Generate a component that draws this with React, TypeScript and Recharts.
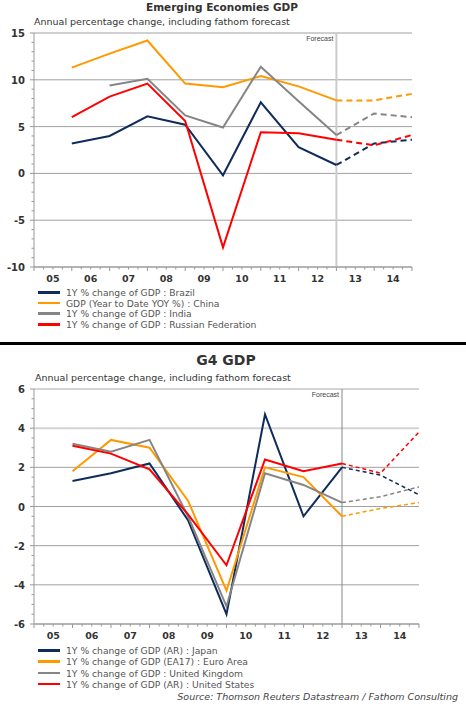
import React from 'react';
import { LineChart, Line, XAxis, YAxis, ReferenceLine } from 'recharts';

// Periods (calendar years); each value sits at the end of its year
const years = [2005, 2006, 2007, 2008, 2009, 2010, 2011, 2012, 2013, 2014];
const lastActual = 2012;

// Emerging economies, annual % change
const brazil = [3.2, 4.0, 6.1, 5.2, -0.2, 7.6, 2.8, 0.9, 3.2, 3.6];
const china = [11.3, 12.8, 14.2, 9.6, 9.2, 10.4, 9.3, 7.8, 7.8, 8.5];
const india = [null, 9.4, 10.1, 6.2, 4.9, 11.4, 7.7, 4.1, 6.4, 6.0];
const russia = [6.0, 8.2, 9.6, 5.6, -7.9, 4.4, 4.3, 3.6, 3.0, 4.1];

// G4, annual % change
const japan = [1.3, 1.7, 2.2, -0.7, -5.5, 4.7, -0.5, 2.0, 1.6, 0.6];
const euroArea = [1.8, 3.4, 3.0, 0.3, -4.3, 2.0, 1.5, -0.5, -0.1, 0.2];
const uk = [3.2, 2.8, 3.4, -0.5, -5.1, 1.7, 1.1, 0.2, 0.5, 1.0];
const us = [3.1, 2.7, 1.9, -0.4, -3.0, 2.4, 1.8, 2.2, 1.7, 3.8];

const emTicks = [-10, -5, 0, 5, 10, 15];
const g4Ticks = [-6, -4, -2, 0, 2, 4, 6];

const emLabels = [
    '1Y % change of GDP : Brazil',
    'GDP (Year to Date YOY %) : China',
    '1Y % change of GDP : India',
    '1Y % change of GDP : Russian Federation',
];
const g4Labels = [
    '1Y % change of GDP (AR) : Japan',
    '1Y % change of GDP (EA17) : Euro Area',
    '1Y % change of GDP : United Kingdom',
    '1Y % change of GDP (AR) : United States',
];

const COLORS = ['#0f2c5c', '#ff9900', '#858585', '#ff0000'];
const FONT = '"DejaVu Sans", Verdana, sans-serif';

// split every series into an actual part and a forecast part
const buildRows = (series: (number | null)[][]) =>
    years.map((yr, i) => {
        const row: any = { x: yr + 1 };
        series.forEach((s, k) => {
            row['a' + k] = yr <= lastActual ? s[i] : null;
            row['f' + k] = yr >= lastActual ? s[i] : null;
        });
        return row;
    });

const emRows = buildRows([brazil, china, india, russia]);
const g4Rows = buildRows([japan, euroArea, uk, us]);

const xTicks: number[] = [];
for (let q = 2005 * 4; q <= 2015 * 4; q++) xTicks.push(q / 4);

const minorTicks = (major: number[], step: number) => {
    const out: number[] = [];
    const lo = major[0], hi = major[major.length - 1];
    for (let v = lo; v <= hi + 1e-9; v += step) out.push(Math.round(v * 100) / 100);
    return out;
};

const XTick = (props: any) => {
    const { x, y, payload } = props;
    const v = payload.value;
    const whole = Math.abs(v - Math.round(v)) < 1e-6;
    const mid = Math.abs(v - Math.floor(v) - 0.5) < 1e-6;
    return (
        <g>
            <line x1={x} x2={x} y1={y} y2={y + (whole ? 4 : 2.5)} stroke="#999" />
            {mid && (
                <text x={x} y={y + 15} textAnchor="middle" fontFamily={FONT} fontWeight="bold" fontSize={9.5} fill="#333">
                    {String(Math.floor(v)).slice(2)}
                </text>
            )}
        </g>
    );
};

const makeYTick = (major: number[]) => (props: any) => {
    const { x, y, payload } = props;
    const isMajor = major.includes(payload.value);
    return (
        <g>
            <line x1={x} x2={x - (isMajor ? 4 : 2.5)} y1={y} y2={y} stroke="#999" />
            {isMajor && (
                <text x={x - 9} y={y + 4} textAnchor="end" fontFamily={FONT} fontWeight="bold" fontSize={10} fill="#333">
                    {payload.value}
                </text>
            )}
        </g>
    );
};

const Legend = ({ labels, top, gap }: { labels: string[]; top: number; gap: number }) => (
    <div style={{ position: 'absolute', left: 0, top, fontFamily: FONT, fontSize: 9.2, color: '#555' }}>
        {labels.map((l, i) => (
            <div key={l} style={{ position: 'absolute', top: i * gap, left: 38, whiteSpace: 'nowrap', height: 11, lineHeight: '11px' }}>
                <span style={{ position: 'absolute', left: 0, top: 4, width: 22, height: 2.5, background: COLORS[i] }} />
                <span style={{ position: 'absolute', left: 28, top: 0 }}>{l}</span>
            </div>
        ))}
    </div>
);

const Panel = ({
    rows, majors, step, height, top, right, forecastStroke, forecastWidth, dash, fLineWidth, gridColor,
}: any) => (
    <LineChart
        width={466}
        height={height}
        data={rows}
        margin={{ top, right, bottom: 0, left: 0 }}
    >
        <XAxis
            dataKey="x"
            type="number"
            domain={[2005, 2015]}
            ticks={xTicks}
            interval={0}
            tickSize={0}
            tickMargin={0}
            tickLine={false}
            tick={XTick}
            axisLine={{ stroke: '#999' }}
            height={23}
        />
        <YAxis
            type="number"
            domain={[majors[0], majors[majors.length - 1]]}
            ticks={minorTicks(majors, step)}
            interval={0}
            tickSize={0}
            tickMargin={0}
            tickLine={false}
            tick={makeYTick(majors)}
            axisLine={{ stroke: '#999' }}
            width={34}
        />
        {majors.map((v: number) => (
            <ReferenceLine key={v} y={v} stroke={gridColor(v)} strokeWidth={gridColor(v) === '#d4d4d4' ? 2 : 1} />
        ))}
        <ReferenceLine
            x={2013}
            stroke={forecastStroke}
            strokeWidth={forecastWidth}
            label={{ value: 'Forecast', position: 'insideTopRight', offset: 3, fontSize: 7, fill: '#444', fontFamily: 'Arial, sans-serif' }}
        />
        {[0, 1, 2, 3].map((k) => (
            <Line key={'a' + k} dataKey={'a' + k} stroke={COLORS[k]} strokeWidth={2} dot={false} activeDot={false} isAnimationActive={false} />
        ))}
        {[0, 1, 2, 3].map((k) => (
            <Line key={'f' + k} dataKey={'f' + k} stroke={COLORS[k]} strokeWidth={fLineWidth} strokeDasharray={dash} dot={false} activeDot={false} isAnimationActive={false} />
        ))}
    </LineChart>
);

export default function App() {
    return (
        <div style={{ position: 'absolute', left: 0, top: 0, width: 466, height: 707, background: '#fff', fontFamily: FONT, overflow: 'hidden' }}>
            {/* Emerging economies */}
            <div style={{ position: 'absolute', left: 0, top: 0, width: 466, height: 340 }}>
                <div style={{ position: 'absolute', left: 0, width: 444, top: 1, textAlign: 'center', fontWeight: 'bold', fontSize: 10.5, color: '#333' }}>
                    Emerging Economies GDP
                </div>
                <div style={{ position: 'absolute', left: 34, top: 16, fontSize: 9.5, color: '#333', whiteSpace: 'nowrap' }}>
                    Annual percentage change, including fathom forecast
                </div>
                <div style={{ position: 'absolute', left: 0, top: 0 }}>
                    <Panel
                        rows={emRows}
                        majors={emTicks}
                        step={1}
                        height={290}
                        top={33}
                        right={54}
                        forecastStroke="#cccccc"
                        forecastWidth={2}
                        dash="6 4"
                        fLineWidth={2}
                        gridColor={() => '#a0a0a0'}
                    />
                </div>
                <Legend labels={emLabels} top={287} gap={10.7} />
            </div>

            <div style={{ position: 'absolute', left: 0, top: 342, width: 466, height: 3, background: '#000' }} />

            {/* G4 */}
            <div style={{ position: 'absolute', left: 0, top: 340, width: 466, height: 367 }}>
                <div style={{ position: 'absolute', left: 0, width: 452, top: 12, textAlign: 'center', fontWeight: 'bold', fontSize: 14, color: '#333' }}>
                    G4 GDP
                </div>
                <div style={{ position: 'absolute', left: 35, top: 32, fontSize: 9.5, color: '#333', whiteSpace: 'nowrap' }}>
                    Annual percentage change, including fathom forecast
                </div>
                <div style={{ position: 'absolute', left: 0, top: 0 }}>
                    <Panel
                        rows={g4Rows}
                        majors={g4Ticks}
                        step={0.5}
                        height={307}
                        top={49}
                        right={47}
                        forecastStroke="#888888"
                        forecastWidth={1}
                        dash="4 3"
                        fLineWidth={1.5}
                        gridColor={(v: number) => (v >= 4 ? '#d4d4d4' : '#a0a0a0')}
                    />
                </div>
                <Legend labels={g4Labels} top={305} gap={11.3} />
                <div style={{ position: 'absolute', right: 8, top: 351, fontSize: 9.5, fontStyle: 'italic', color: '#444', whiteSpace: 'nowrap' }}>
                    Source: Thomson Reuters Datastream / Fathom Consulting
                </div>
            </div>
        </div>
    );
}
